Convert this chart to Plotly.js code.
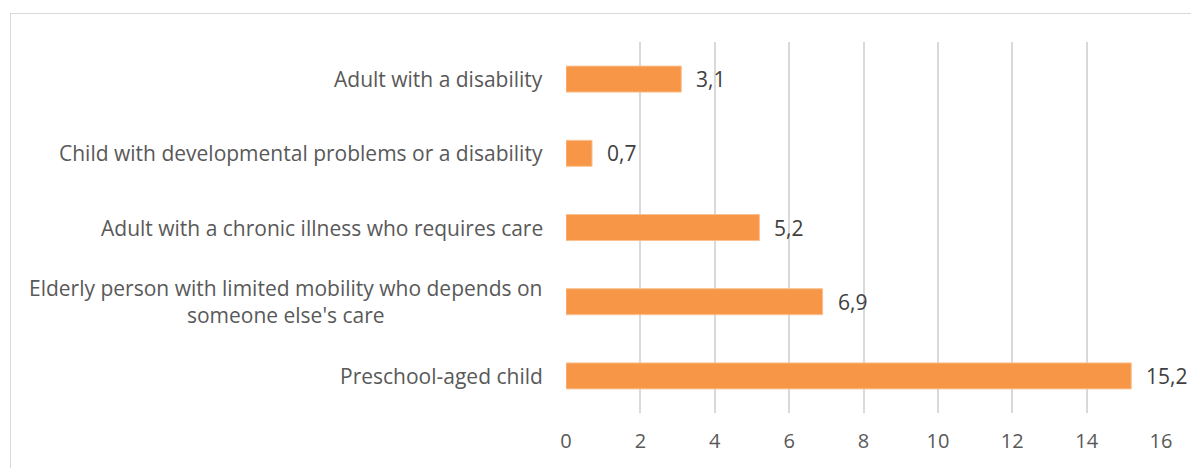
<!DOCTYPE html>
<html>
<head>
<meta charset="utf-8">
<script src="https://cdn.plot.ly/plotly-3.0.1.min.js"></script>
<style>
  html, body { margin: 0; padding: 0; background: #fff; }
  #wrap { position: relative; width: 1191px; height: 468px; overflow: hidden; }
  #frame { position: absolute; left: 10px; top: 13px; width: 1200px; height: 500px; border: 1.5px solid #d9d9d9; box-sizing: border-box; pointer-events: none; }
  #chart { position: absolute; left: 0; top: 0; width: 1191px; height: 468px; }
</style>
</head>
<body>
<div id="wrap">
  <div id="chart"></div>
  <div id="frame"></div>
</div>
<script>
const categories = [
  "Preschool-aged child",
  "Elderly person with limited mobility who depends on<br>someone else's care",
  "Adult with a chronic illness who requires care",
  "Child with developmental problems or a disability",
  "Adult with a disability"
];
const values = [15.2, 6.9, 5.2, 0.7, 3.1];
const valueLabels = ["15,2", "6,9", "5,2", "0,7", "3,1"];
const tickVals = [0, 2, 4, 6, 8, 10, 12, 14, 16];

const FONT = "Open Sans, Noto Sans, sans-serif";

const trace = {
  type: "bar",
  orientation: "h",
  x: values,
  y: categories,
  marker: { color: "#F79646", line: { color: "#FAC090", width: 1 } },
  hoverinfo: "none"
};

const annotations = [];
categories.forEach((c, i) => {
  annotations.push({
    xref: "paper", yref: "y", x: 0, y: c,
    text: c, showarrow: false, xanchor: "right", yanchor: "middle",
    align: "center", xshift: -21,
    font: { family: FONT, size: 21, color: "#595959" }
  });
  annotations.push({
    xref: "x", yref: "y", x: values[i], y: c,
    text: valueLabels[i], showarrow: false, xanchor: "left", yanchor: "middle",
    xshift: 13,
    font: { family: FONT, size: 21, color: "#404040" }
  });
});

const layout = {
  width: 1191, height: 468,
  margin: { l: 566, r: 30, t: 42, b: 55 },
  paper_bgcolor: "#ffffff",
  plot_bgcolor: "#ffffff",
  showlegend: false,
  bargap: 0.65,
  xaxis: {
    range: [0, 16],
    tickvals: tickVals,
    ticktext: tickVals.map(String),
    showgrid: true, gridcolor: "#d9d9d9", gridwidth: 2,
    zeroline: false, showline: false,
    ticks: "", ticklabelstandoff: 14,
    tickfont: { family: FONT, size: 20, color: "#595959" },
    fixedrange: true
  },
  yaxis: {
    type: "category",
    categoryarray: categories,
    showticklabels: false,
    showgrid: false, zeroline: false, showline: false, ticks: "",
    fixedrange: true
  },
  annotations: annotations
};

Plotly.newPlot("chart", [trace], layout, { staticPlot: true, displayModeBar: false });
</script>
</body>
</html>
